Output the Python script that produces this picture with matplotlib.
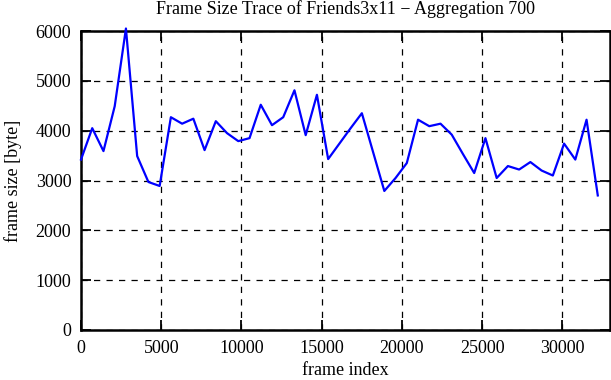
import numpy as np
import matplotlib
matplotlib.use("Agg")
import matplotlib.pyplot as plt

# aggregated frame sizes, one value every 700 frames
frame_index = list(range(0, 32201, 700))
frame_size = [3420, 4050, 3590, 4490, 6050, 3490, 2970, 2890, 4270, 4140,
              4240, 3610, 4190, 3950, 3790, 3850, 4520, 4110, 4270, 4810,
              3910, 4720, 3430, 3740, 4050, 4350, 3570, 2790, 3050, 3350,
              4220, 4090, 4140, 3920, 3530, 3150, 3850, 3050, 3290, 3220,
              3370, 3200, 3100, 3740, 3420, 4220, 2700]

x_ticks = [0, 5000, 10000, 15000, 20000, 25000, 30000]
y_ticks = [0, 1000, 2000, 3000, 4000, 5000, 6000]

plt.rcParams['font.family'] = ['Liberation Serif', 'DejaVu Serif']

fig = plt.figure(figsize=(6.11, 3.80), dpi=100)
ax = fig.add_axes([81/611, 50/380, 528.5/611, 299/380])

ax.plot(frame_index, frame_size, '-', color=(0, 0, 1), lw=1.6, clip_on=False, zorder=3)

ax.set_xlim(0, 32930)
ax.set_ylim(0, 6000)
ax.set_xticks(x_ticks)
ax.set_yticks(y_ticks)
ax.tick_params(direction='in', top=True, right=True, length=7, width=1.3,
               labelsize=13, pad=7)
ax.grid(True, linestyle=(0, (5, 5)), color='black', lw=0.9)
for s in ax.spines.values():
    s.set_linewidth(1.8)

ax.set_xlabel("frame index", fontsize=13, labelpad=4)
ax.set_ylabel("frame size [byte]", fontsize=13, labelpad=10)
ax.set_title("Frame Size Trace of Friends3x11 \u2212 Aggregation 700", fontsize=13, pad=12)

fig.savefig("out.png", dpi=100)
